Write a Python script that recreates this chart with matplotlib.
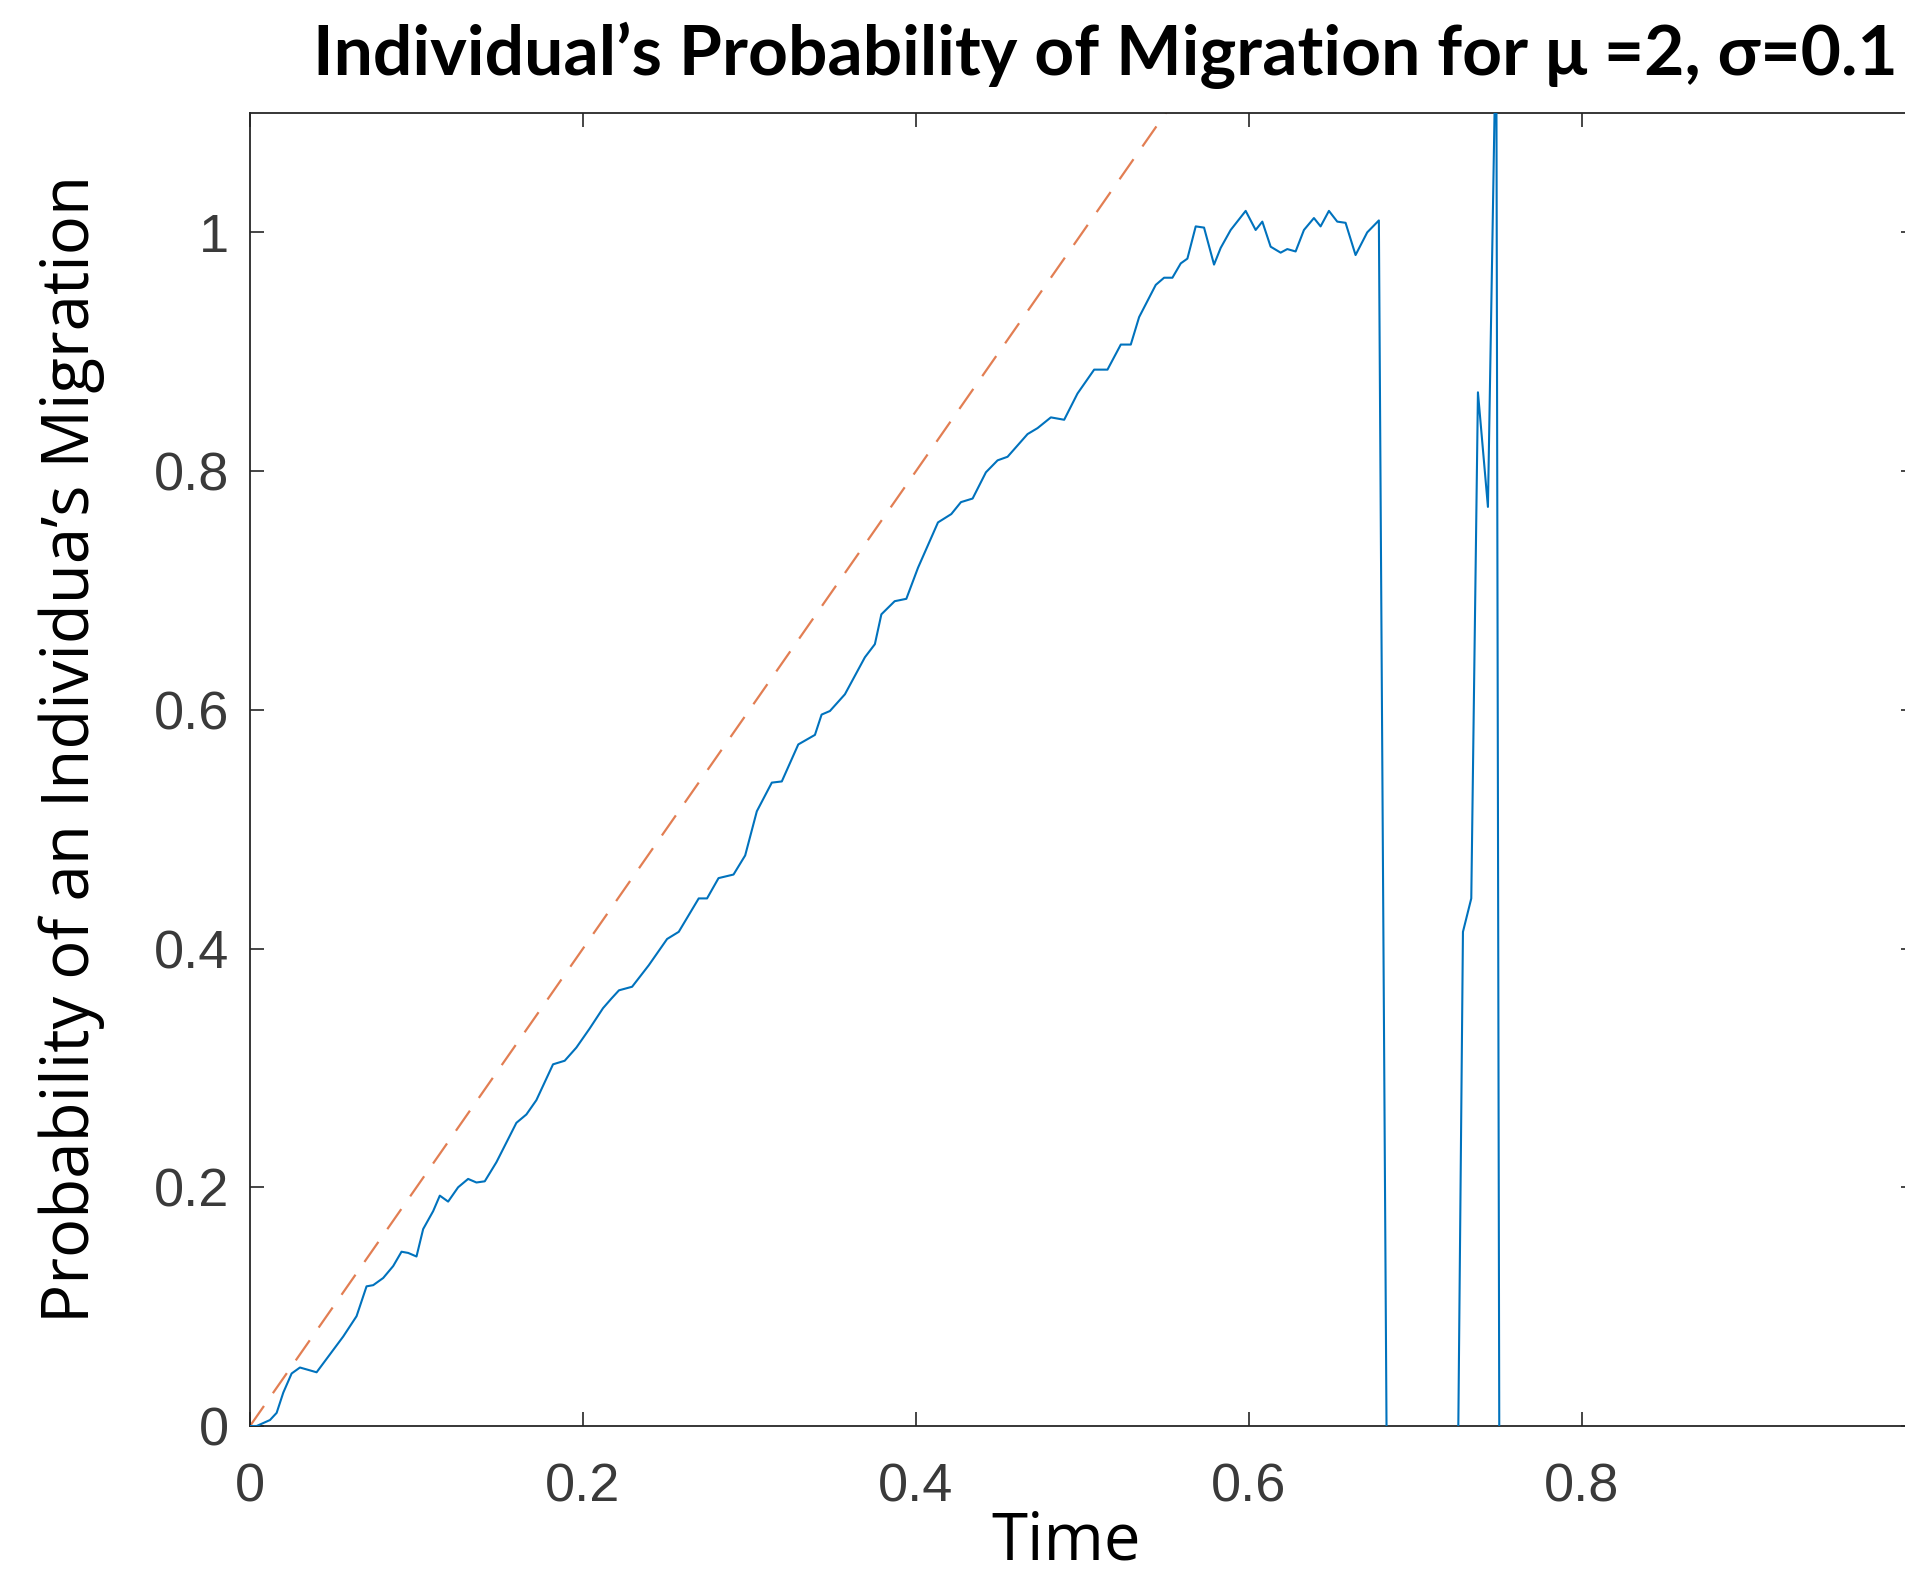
import numpy as np
import matplotlib
matplotlib.use("Agg")
import matplotlib.pyplot as plt
from matplotlib.ticker import FormatStrFormatter

# simulated probability
time = [0.000, 0.004, 0.012, 0.016, 0.020, 0.025, 0.030, 0.035, 0.040, 0.048,
        0.056, 0.064, 0.070, 0.074, 0.080, 0.086, 0.091, 0.095, 0.100, 0.104,
        0.110, 0.114, 0.119, 0.125, 0.131, 0.136, 0.141, 0.148, 0.160, 0.166,
        0.172, 0.182, 0.189, 0.196, 0.204, 0.212, 0.217, 0.2216, 0.2295, 0.2395,
        0.2505, 0.2575, 0.2695, 0.2745, 0.2814, 0.2904, 0.2974, 0.3044, 0.3134, 0.3194,
        0.3293, 0.3393, 0.3433, 0.3483, 0.3573, 0.3693, 0.3753, 0.3792, 0.3872, 0.3942,
        0.4012, 0.4132, 0.4212, 0.427, 0.434, 0.442, 0.449, 0.455, 0.467, 0.473,
        0.481, 0.489, 0.497, 0.507, 0.515, 0.523, 0.529, 0.534, 0.544, 0.549,
        0.554, 0.559, 0.563, 0.568, 0.573, 0.579, 0.583, 0.589, 0.598, 0.604,
        0.608, 0.613, 0.619, 0.623, 0.628, 0.633, 0.639, 0.643, 0.648, 0.653,
        0.658, 0.664, 0.671, 0.678, 0.683, 0.7235, 0.7285, 0.7335, 0.7375, 0.7435,
        0.7485, 0.7535]
prob = [0.000, 0.000, 0.005, 0.011, 0.028, 0.044, 0.049, 0.047, 0.045, 0.060,
        0.075, 0.092, 0.117, 0.118, 0.124, 0.134, 0.146, 0.145, 0.142, 0.165,
        0.180, 0.193, 0.188, 0.200, 0.207, 0.204, 0.205, 0.221, 0.254, 0.261,
        0.273, 0.303, 0.306, 0.317, 0.333, 0.350, 0.358, 0.365, 0.368, 0.386,
        0.408, 0.414, 0.442, 0.442, 0.459, 0.462, 0.478, 0.515, 0.539, 0.540,
        0.571, 0.579, 0.596, 0.599, 0.613, 0.644, 0.655, 0.680, 0.691, 0.693,
        0.719, 0.757, 0.764, 0.774, 0.777, 0.799, 0.809, 0.812, 0.831, 0.836,
        0.845, 0.843, 0.865, 0.885, 0.885, 0.906, 0.906, 0.929, 0.956, 0.962,
        0.962, 0.974, 0.978, 1.005, 1.004, 0.973, 0.987, 1.002, 1.018, 1.002,
        1.009, 0.988, 0.983, 0.986, 0.984, 1.002, 1.012, 1.005, 1.018, 1.009,
        1.008, 0.981, 1.000, 1.010, -0.09, -0.33, 0.414, 0.442, 0.866, 0.770,
        1.185, -2.1]

# reference line (mu = 2)
ref_time = [0.0, 0.6]
ref_prob = [0.0, 1.2]

x_ticks = [0, 0.2, 0.4, 0.6, 0.8, 1.0]
x_labels = ["0", "0.2", "0.4", "0.6", "0.8", ""]  # last one falls off the picture
y_ticks = [0, 0.2, 0.4, 0.6, 0.8, 1.0]

W, H = 1905, 1580
fig = plt.figure(figsize=(W / 100, H / 100), dpi=100)
ax = fig.add_axes([250 / W, 1 - 1426 / H, 1665 / W, (1426 - 113) / H])

ax.plot(time, prob, color="#0072BD", lw=1.5, zorder=3)
ax.plot(ref_time, ref_prob, color="#D95319", lw=1.6, alpha=0.75,
        dashes=(11, 7), zorder=2)

ax.set_xlim(0, 1)
ax.set_ylim(0, 1.1)
ax.set_xticks(x_ticks)
ax.set_xticklabels(x_labels)
ax.set_yticks(y_ticks)
ax.yaxis.set_major_formatter(FormatStrFormatter("%g"))

for s in ax.spines.values():
    s.set_color("#262626")
    s.set_linewidth(1.3)
ax.tick_params(direction="in", length=10, width=1.2, color="#262626",
               top=True, right=True, labelsize=39, labelcolor="#3a3a3a")
ax.tick_params(axis="x", pad=26)
ax.tick_params(axis="y", pad=15)
for lab in ax.get_xticklabels() + ax.get_yticklabels():
    lab.set_family("Liberation Sans")

fig.text(1105 / W, 1 - 75 / H,
         "Individual\u2019s Probability of Migration for \u03bc =2, \u03c3=0.1",
         ha="center", va="baseline", fontsize=50, fontweight="bold",
         family="Lato")
fig.text(72 / W, 1 - 749 / H, "Probability of an Individua\u2019s Migration",
         rotation=90, ha="center", va="center", fontsize=47, family="Open Sans")
fig.text(1066 / W, 1 - 1560 / H, "Time", ha="center", va="baseline",
         fontsize=47, family="Open Sans")

fig.savefig("out.png", dpi=100)
